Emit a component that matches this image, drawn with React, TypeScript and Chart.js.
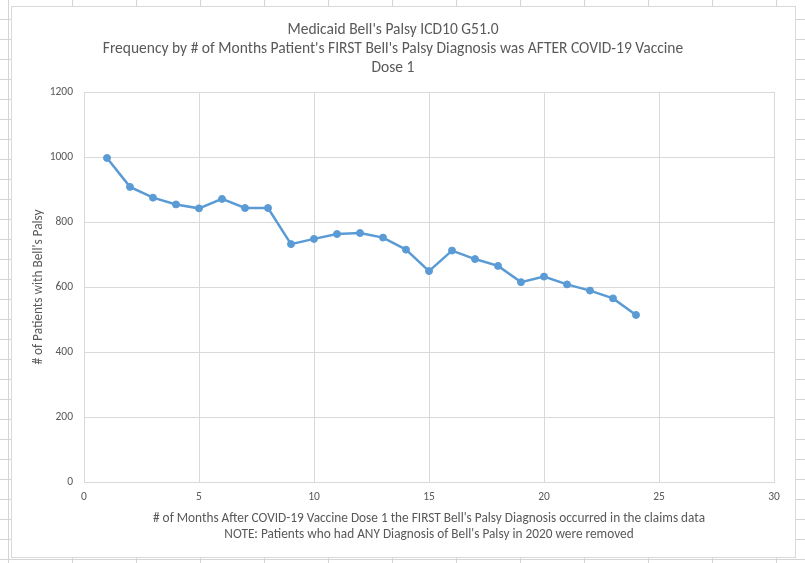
import React, { useEffect, useRef } from "react";
import { Chart, registerables } from "chart.js";

Chart.register(...registerables);

const titleLines = [
  "Medicaid Bell's Palsy ICD10 G51.0",
  "Frequency by # of Months Patient's FIRST Bell's Palsy Diagnosis was AFTER COVID-19 Vaccine",
  "Dose 1",
];
const xTitleLines = [
  "# of Months After COVID-19 Vaccine Dose 1 the FIRST Bell's Palsy Diagnosis occurred in the claims data",
  "NOTE: Patients who had ANY Diagnosis of Bell's Palsy in 2020 were removed",
];
const yTitle = "# of Patients with Bell's Palsy";

const months = [1, 2, 3, 4, 5, 6, 7, 8, 9, 10, 11, 12, 13, 14, 15, 16, 17, 18, 19, 20, 21, 22, 23, 24];
const patients = [997, 908, 875, 854, 842, 871, 843, 843, 732, 748, 763, 766, 752, 715, 649, 712, 686, 665, 615, 632, 608, 589, 565, 514];

const FONT = "Calibri, Carlito, Lato, sans-serif";
const TEXT = "#595959";
const GRID = "#d9d9d9";
const LINE = "#5b9bd5";

export default function App() {
  const ref = useRef<HTMLCanvasElement | null>(null);

  useEffect(() => {
    if (!ref.current) return;
    const chart = new Chart(ref.current, {
      type: "line",
      data: {
        datasets: [
          {
            data: months.map((m, i) => ({ x: m, y: patients[i] })),
            borderColor: LINE,
            backgroundColor: LINE,
            borderWidth: 2.5,
            pointRadius: 3.5,
            pointBackgroundColor: LINE,
            pointBorderColor: LINE,
            pointBorderWidth: 1,
            tension: 0,
          },
        ],
      },
      options: {
        animation: false,
        responsive: false,
        devicePixelRatio: 1,
        layout: { padding: { left: 0, right: 21, top: 0, bottom: 0 } },
        plugins: {
          legend: { display: false },
          tooltip: { enabled: false },
          title: {
            display: true,
            text: titleLines,
            color: TEXT,
            font: { family: FONT, size: 15.5, weight: "normal", lineHeight: "19px" },
            padding: { top: 13.5, bottom: 14.5 },
          },
        },
        scales: {
          x: {
            type: "linear",
            min: 0,
            max: 30,
            ticks: {
              stepSize: 5,
              color: TEXT,
              font: { family: FONT, size: 11.5 },
              padding: 8,
              maxRotation: 0,
              callback: (v: any) => String(v),
            },
            grid: { color: GRID, drawTicks: false },
            border: { color: GRID },
            title: {
              display: true,
              text: xTitleLines,
              color: TEXT,
              font: { family: FONT, size: 13.3, lineHeight: "16px" },
              padding: { top: 0, bottom: 14.5 },
            },
            afterFit: (s: any) => {
              s.height = 75;
            },
          },
          y: {
            min: 0,
            max: 1200,
            ticks: {
              stepSize: 200,
              color: TEXT,
              font: { family: FONT, size: 11.5 },
              padding: 11,
              callback: (v: any) => String(v),
            },
            grid: { color: GRID, drawTicks: false },
            border: { color: GRID },
            title: {
              display: true,
              text: yTitle,
              color: TEXT,
              font: { family: FONT, size: 13.3, lineHeight: 1.2 },
              padding: { top: 19, bottom: 0 },
            },
            afterFit: (s: any) => {
              s.width = 72;
            },
          },
        },
      },
    });
    return () => chart.destroy();
  }, []);

  const line = "#d4d4d4";
  return (
    <div
      style={{
        position: "fixed",
        left: 0,
        top: 0,
        width: 805,
        height: 563,
        overflow: "hidden",
        backgroundColor: "#ffffff",
        backgroundImage: `linear-gradient(to right, ${line} 0px, ${line} 1px, transparent 1px), linear-gradient(to bottom, ${line} 0px, ${line} 1px, transparent 1px)`,
        backgroundSize: "64px 20px",
        backgroundPosition: "8px 19px",
      }}
    >
      <div
        style={{
          position: "absolute",
          left: 11,
          top: 6,
          width: 783,
          height: 550,
          border: "1px solid #d9d9d9",
          background: "#ffffff",
        }}
      >
        <canvas ref={ref} width={783} height={550} style={{ display: "block", width: 783, height: 550 }} />
      </div>
    </div>
  );
}
